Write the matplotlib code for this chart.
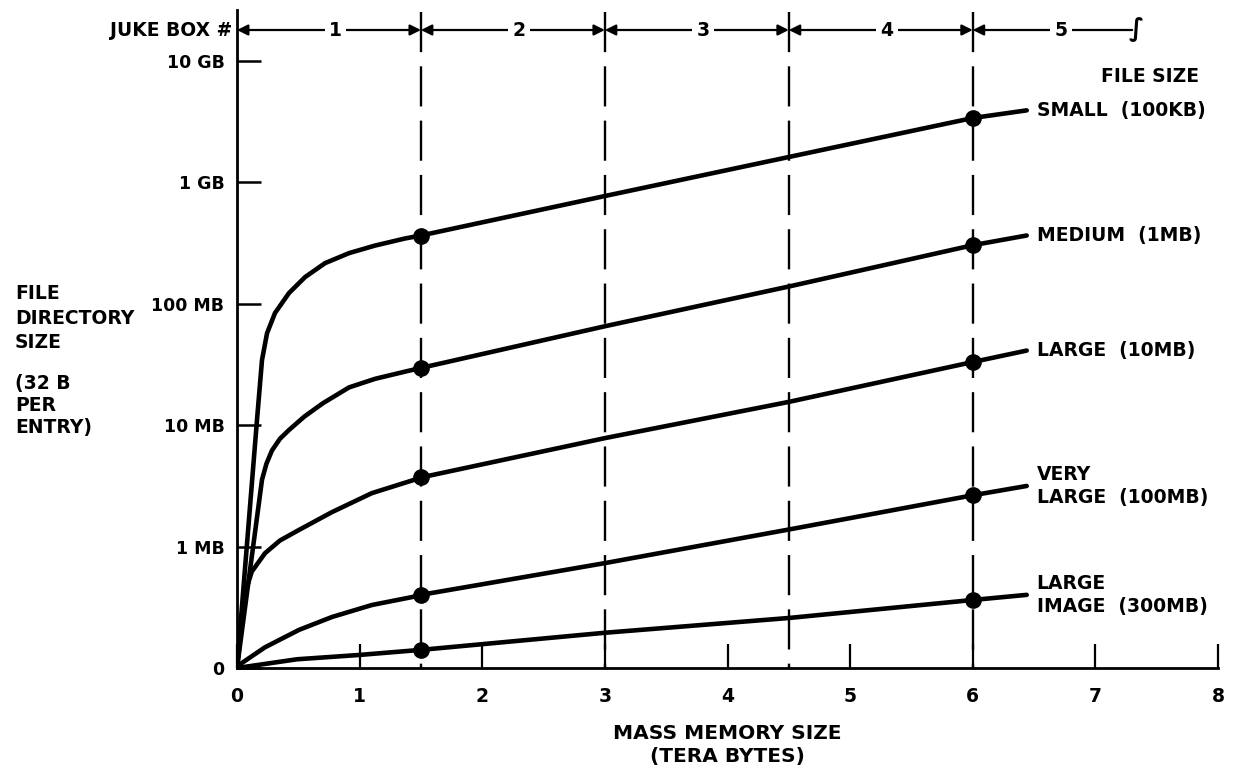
import matplotlib
matplotlib.use("Agg")
import matplotlib.pyplot as plt
import matplotlib.transforms as mtransforms

# mass memory size (TB) and file directory size (MB)
small_x = [0, 0.163, 0.204, 0.245, 0.31, 0.424, 0.555, 0.718, 0.914, 1.126, 1.37, 1.5,
           3.0, 4.5, 6.0, 6.44]
small_y = [0.1, 11.0, 34.3, 57, 83.6, 122, 165, 215, 260, 300, 343, 363,
           767, 1607, 3365, 3890]

medium_x = [0, 0.204, 0.24, 0.285, 0.35, 0.424, 0.55, 0.70, 0.914, 1.126, 1.37, 1.5,
            3.0, 4.5, 6.0, 6.44]
medium_y = [0.1, 3.55, 4.8, 6.17, 7.7, 9.1, 11.75, 15.1, 20.4, 24.0, 27.5, 29.5,
            65, 138, 302, 363]

large_x = [0, 0.065, 0.12, 0.228, 0.35, 0.506, 0.775, 1.10, 1.43, 1.5, 3.0, 4.5,
           6.0, 6.44]
large_y = [0.1, 0.41, 0.62, 0.88, 1.12, 1.37, 1.92, 2.75, 3.5, 3.7, 7.8, 15.5,
           33, 41]

vlarge_x = [0, 0.04, 0.228, 0.506, 0.775, 1.10, 1.43, 1.5, 3.0, 4.5, 6.0, 6.44]
vlarge_y = [0.1, 0.11, 0.148, 0.206, 0.263, 0.33, 0.384, 0.40, 0.73, 1.38, 2.64, 3.15]

image_x = [0, 0.49, 0.995, 1.5, 3.0, 4.5, 6.0, 6.44]
image_y = [0.1, 0.118, 0.128, 0.141, 0.195, 0.258, 0.363, 0.40]

curve_labels = ["SMALL  (100KB)", "MEDIUM  (1MB)", "LARGE  (10MB)",
                "VERY\nLARGE  (100MB)", "LARGE\nIMAGE  (300MB)"]
dot_x = [1.5, 6.0]

juke_bounds = [0, 1.5, 3.0, 4.5, 6.0]
juke_labels = ["1", "2", "3", "4", "5"]
juke_end = 7.3

y_ticks = [0.1, 1, 10, 100, 1000, 10000]
y_ticklabels = ["0", "1 MB", "10 MB", "100 MB", "1 GB", "10 GB"]
x_ticks = [0, 1, 2, 3, 4, 5, 6, 7, 8]

W, H = 1233, 770
fig = plt.figure(figsize=(W / 100, H / 100), dpi=100)
ax = fig.add_axes([237 / W, 1 - 668 / H, (1218 - 237) / W, 658 / H])

ax.set_yscale("log")
ax.set_xlim(0, 8)
ax.set_ylim(0.1, 10 ** 4.416)

curves = [(small_x, small_y), (medium_x, medium_y), (large_x, large_y),
          (vlarge_x, vlarge_y), (image_x, image_y)]
for (xs, ys), lab in zip(curves, curve_labels):
    ax.plot(xs, ys, color="black", lw=3.3, solid_capstyle="round",
            solid_joinstyle="round", zorder=3)
    dx = [x for x in xs if x in dot_x]
    dy = [y for x, y in zip(xs, ys) if x in dot_x]
    ax.plot(dx, dy, "o", color="black", ms=11, zorder=4)
    ax.text(xs[-1] + 0.08, ys[-1], lab, ha="left", va="center",
            fontsize=13.5, fontweight="bold", linespacing=1.25)

# dashed juke box boundaries
trans = mtransforms.blended_transform_factory(ax.transData, ax.transAxes)
for b in juke_bounds[1:]:
    ax.plot([b, b], [0.997, 0], transform=trans, color="black", lw=1.7,
            ls=(0, (17, 6)), clip_on=False, zorder=2)

# juke box arrows
yj = 0.9696
for i in range(len(juke_bounds) - 1):
    b0, b1 = juke_bounds[i], juke_bounds[i + 1]
    ax.annotate("", xy=(b0, yj), xytext=(b1, yj), xycoords=trans, textcoords=trans,
                arrowprops=dict(arrowstyle="<|-|>", color="black", lw=1.6,
                                shrinkA=0, shrinkB=0, mutation_scale=16))
    ax.text((b0 + b1) / 2 + 0.05, yj, juke_labels[i], transform=trans, ha="center",
            va="center", fontsize=13.5, fontweight="bold",
            bbox=dict(facecolor="white", edgecolor="none", pad=3))
ax.annotate("", xy=(juke_bounds[-1], yj), xytext=(juke_end, yj), xycoords=trans,
            textcoords=trans,
            arrowprops=dict(arrowstyle="-|>", color="black", lw=1.6,
                            shrinkA=0, shrinkB=0, mutation_scale=16))
ax.text(6.72, yj, juke_labels[-1], transform=trans, ha="center", va="center",
        fontsize=13.5, fontweight="bold",
        bbox=dict(facecolor="white", edgecolor="none", pad=3))
ax.text(juke_end + 0.03, yj, "\u222b", transform=trans, ha="center", va="center",
        fontsize=18, fontweight="bold")

# axes styling
for s in ["top", "right"]:
    ax.spines[s].set_visible(False)
ax.spines["left"].set_linewidth(2)
ax.spines["bottom"].set_linewidth(2)
ax.set_yticks(y_ticks)
ax.set_yticklabels(y_ticklabels, fontsize=12.5, fontweight="bold")
ax.minorticks_off()
ax.tick_params(axis="y", direction="in", length=17, width=1.8, pad=9)
ax.set_xticks(x_ticks)
ax.set_xticklabels([str(v) for v in x_ticks], fontsize=13.5, fontweight="bold")
ax.tick_params(axis="x", direction="in", length=17, width=1.6, pad=14)

fig.text(232 / W, 1 - 30 / H, "JUKE BOX #", ha="right", va="center",
         fontsize=13.5, fontweight="bold")
fig.text(1150 / W, 1 - 76 / H, "FILE SIZE", ha="center", va="center",
         fontsize=13.5, fontweight="bold")
fig.text(15 / W, 1 - 318 / H, "FILE\nDIRECTORY\nSIZE", ha="left", va="center",
         fontsize=13.5, fontweight="bold", linespacing=1.35)
fig.text(15 / W, 1 - 406 / H, "(32 B\nPER\nENTRY)", ha="left", va="center",
         fontsize=13.5, fontweight="bold", linespacing=1.2)
fig.text(727 / W, 1 - 745 / H, "MASS MEMORY SIZE\n(TERA BYTES)", ha="center",
         va="center", fontsize=14.5, fontweight="bold", linespacing=1.25)

fig.savefig("out.png", dpi=100)
